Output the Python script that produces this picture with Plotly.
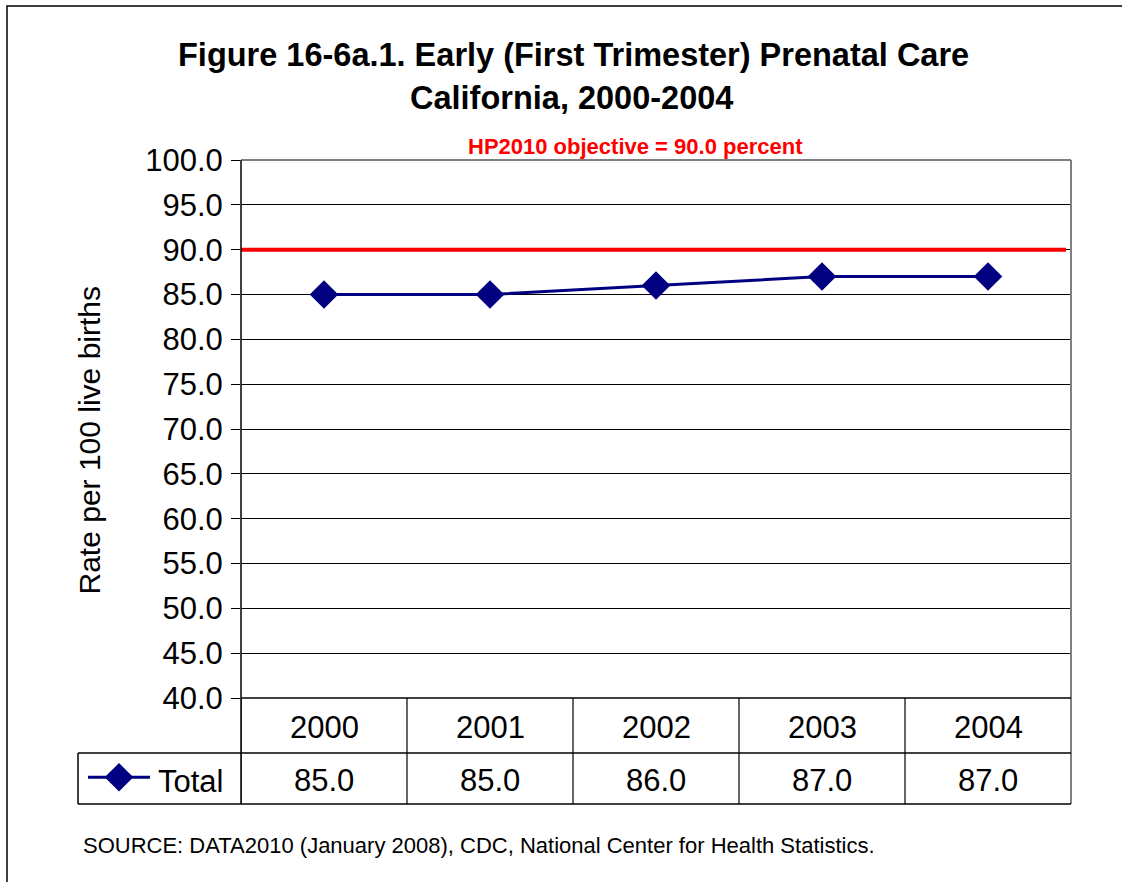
import plotly.graph_objects as go

W, H = 1122, 882
def px(x): return x / W
def py(y): return 1 - y / H

years = ["2000", "2001", "2002", "2003", "2004"]
total = [85.0, 85.0, 86.0, 87.0, 87.0]
objective = 90.0
y_ticks = [40.0, 45.0, 50.0, 55.0, 60.0, 65.0, 70.0, 75.0, 80.0, 85.0, 90.0, 95.0, 100.0]
series_name = "Total"
title1 = "Figure 16-6a.1. Early (First Trimester) Prenatal Care"
title2 = "California, 2000-2004"
obj_label = "HP2010 objective = 90.0 percent"
y_title = "Rate per 100 live births"
source = "SOURCE: DATA2010 (January 2008), CDC, National Center for Health Statistics."

FONT = "Arial, Liberation Sans, sans-serif"
NAVY = "#000080"

X0, X1, YT, YB = 241, 1071, 160, 698
ROW1, ROW2 = 753, 804
LEG_L = 78

fig = go.Figure()
fig.add_trace(go.Scatter(
    x=list(range(len(years))), y=total, mode="lines+markers", name=series_name,
    line=dict(color=NAVY, width=3),
    marker=dict(symbol="diamond", size=22, color=NAVY),
    showlegend=False, cliponaxis=False))

# legend sample on hidden axes
fig.add_trace(go.Scatter(x=[0, 1], y=[0, 0], mode="lines", line=dict(color=NAVY, width=3),
                         xaxis="x2", yaxis="y2", showlegend=False, hoverinfo="skip"))
fig.add_trace(go.Scatter(x=[0.5], y=[0], mode="markers",
                         marker=dict(symbol="diamond", size=22, color=NAVY),
                         xaxis="x2", yaxis="y2", showlegend=False, hoverinfo="skip"))

shapes = []
shapes.append(dict(type="rect", xref="paper", yref="paper", x0=px(7), x1=1.02, y0=py(6), y1=-0.02,
                   line=dict(color="black", width=1.5), fillcolor="rgba(0,0,0,0)", layer="below"))
shapes.append(dict(type="line", xref="paper", yref="paper", x0=px(X0), x1=px(X1), y0=py(YT), y1=py(YT),
                   line=dict(color="#808080", width=2)))
shapes.append(dict(type="line", xref="paper", yref="paper", x0=px(X1), x1=px(X1), y0=py(YT), y1=py(ROW2),
                   line=dict(color="#808080", width=2)))
shapes.append(dict(type="line", xref="x", yref="y", x0=-0.5, x1=4.47, y0=objective, y1=objective,
                   line=dict(color="#FF0000", width=4), layer="above"))
for yy in (ROW1, ROW2):
    shapes.append(dict(type="line", xref="paper", yref="paper", x0=px(LEG_L), x1=px(X1), y0=py(yy), y1=py(yy),
                       line=dict(color="black", width=1.5)))
shapes.append(dict(type="line", xref="paper", yref="paper", x0=px(X0), x1=px(X1), y0=py(YB), y1=py(YB),
                   line=dict(color="black", width=1.5)))
for i in range(len(years)):
    xb = i - 0.5
    shapes.append(dict(type="line", xref="x", yref="paper", x0=xb, x1=xb, y0=py(YB), y1=py(ROW2),
                       line=dict(color="black", width=1.2)))
shapes.append(dict(type="line", xref="paper", yref="paper", x0=px(X0), x1=px(X0), y0=py(YT), y1=py(ROW2),
                   line=dict(color="black", width=1.5)))
shapes.append(dict(type="line", xref="paper", yref="paper", x0=px(LEG_L), x1=px(LEG_L), y0=py(ROW1), y1=py(ROW2),
                   line=dict(color="black", width=1.5)))

ann = []
ann.append(dict(text=f"<b>{title1}</b>", x=px(573), y=py(55), xref="paper", yref="paper",
                showarrow=False, font=dict(family=FONT, size=32.5, color="black"), yanchor="middle"))
ann.append(dict(text=f"<b>{title2}</b>", x=px(571), y=py(98), xref="paper", yref="paper",
                showarrow=False, font=dict(family=FONT, size=32.5, color="black"), yanchor="middle"))
ann.append(dict(text=f"<b>{obj_label}</b>", x=px(635), y=py(146), xref="paper", yref="paper",
                showarrow=False, font=dict(family=FONT, size=22, color="#FF0000"), yanchor="middle"))
ann.append(dict(text=y_title, x=px(70), y=py(440), xref="paper", yref="paper", textangle=-90,
                showarrow=False, font=dict(family=FONT, size=30, color="black"), yanchor="middle"))
ann.append(dict(text=source, x=px(81), y=py(845), xref="paper", yref="paper", xanchor="left",
                showarrow=False, font=dict(family=FONT, size=22, color="black"), yanchor="middle"))
for i, (yr, v) in enumerate(zip(years, total)):
    ann.append(dict(text=yr, x=i, y=py(727), xref="x", yref="paper", showarrow=False,
                    font=dict(family=FONT, size=31, color="black"), yanchor="middle"))
    ann.append(dict(text=f"{v:.1f}", x=i, y=py(780), xref="x", yref="paper", showarrow=False,
                    font=dict(family=FONT, size=31, color="black"), yanchor="middle"))
ann.append(dict(text=series_name, x=px(156), y=py(781), xref="paper", yref="paper", xanchor="left",
                showarrow=False, font=dict(family=FONT, size=31, color="black"), yanchor="middle"))

fig.update_layout(
    width=W, height=H, autosize=False, margin=dict(l=0, r=0, t=0, b=0, pad=0),
    paper_bgcolor="white", plot_bgcolor="white",
    shapes=shapes, annotations=ann,
    xaxis=dict(domain=[px(X0), px(X1)], range=[-0.5, 4.5], automargin=False,
               showticklabels=False, ticks="", showgrid=False, zeroline=False, showline=False,
               fixedrange=True),
    yaxis=dict(domain=[py(YB), py(YT)], range=[40, 100], tickvals=y_ticks, automargin=False,
               ticktext=[f"{t:.1f}" for t in y_ticks],
               ticks="outside", ticklen=9, tickcolor="black", tickwidth=1.2,
               showgrid=True, gridcolor="black", gridwidth=1,
               showline=False, zeroline=False,
               tickfont=dict(family=FONT, size=31, color="black"), ticklabelstandoff=2),
    xaxis2=dict(domain=[px(88), px(150)], range=[0, 1], visible=False, fixedrange=True, automargin=False),
    yaxis2=dict(domain=[py(ROW2), py(ROW1)], range=[-1.05, 0.95], visible=False, fixedrange=True,
                automargin=False),
    showlegend=False,
)
fig.write_html("out.html", config={"displayModeBar": False},
               post_script="document.body.style.margin='0';document.body.style.overflow='hidden';")
